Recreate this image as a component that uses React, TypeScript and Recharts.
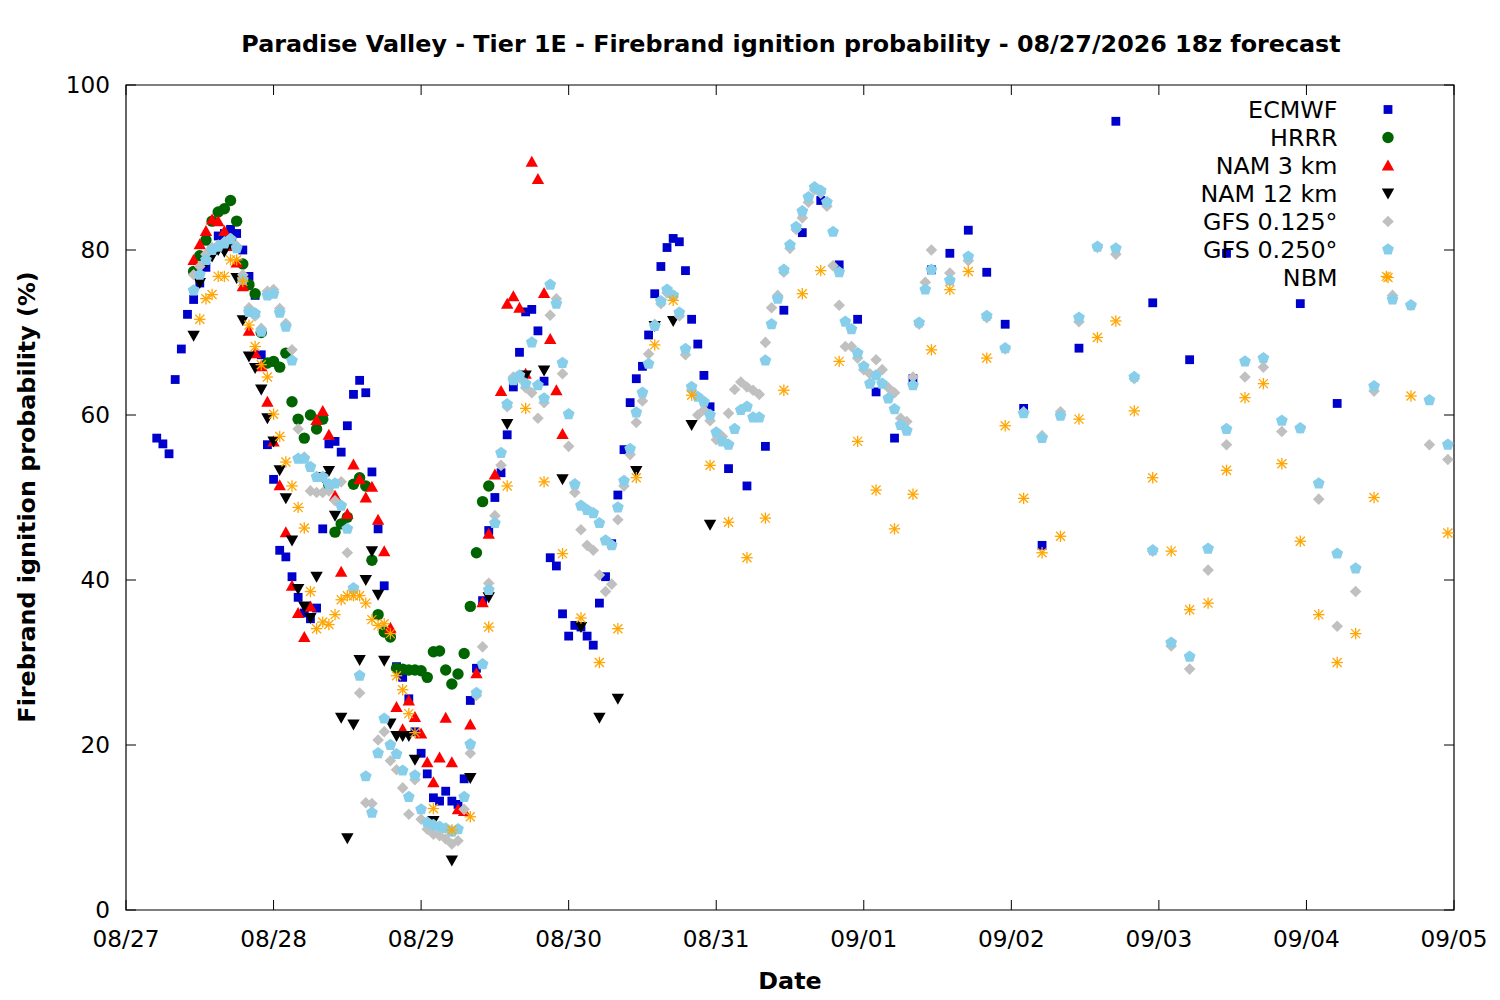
import { ScatterChart, Scatter, XAxis, YAxis, ReferenceArea } from "recharts";

// hours are counted from 08/27 00 local time
const DAY_LABELS = ["08/27", "08/28", "08/29", "08/30", "08/31", "09/01", "09/02", "09/03", "09/04", "09/05"];
const X_TICKS = [0, 24, 48, 72, 96, 120, 144, 168, 192, 216];
const Y_TICKS = [0, 20, 40, 60, 80, 100];

const span = (from: number, to: number, step: number) => {
  const out: number[] = [];
  for (let h = from; h <= to; h += step) out.push(h);
  return out;
};

const ECMWF_HOURS = [...span(5, 95, 1), ...span(98, 146, 3), 149, 155, 161, 167, 173, 179, 191, 197];
const ECMWF_VALUES = [
  57.2, 56.5, 55.3, 64.3, 68, 72.2, 74, 76, 77.9, 80, 81.7, 82, 82.5, 82, 80, 76.8, 74.5, 67.3, 56.4,
  52.2, 43.6, 42.8, 40.4, 37.9, 36, 35.3, 36.6, 46.2, 56.5, 56.8, 55.5, 58.7, 62.5, 64.2, 62.7, 53.1,
  46.2, 39.3, 33.5, 29.5, 28.2, 25.6, 21.6, 19, 16.5, 13.6, 13.2, 14.4, 13.2, 12.8, 15.9, 25.4, 29.3,
  37.5, 46, 50, 53, 57.6, 63.4, 67.6, 72.5, 72.8, 70.2, 64.1, 42.7, 41.7, 35.9, 33.2, 34.5, 34.3, 33.2,
  32.1, 37.2, 40.4, 44.4, 50.3, 55.8, 61.5, 64.4, 65.9, 69.7, 74.7, 78, 80.3, 81.4, 81, 77.5, 71.6,
  68.6, 64.8, 61,
  53.5, 51.4, 56.2, 72.7, 82.1, 86, 78.2, 71.6, 62.8, 57.2, 64.4, 77.6, 79.6, 82.4, 77.3, 71, 60.8,
  44.2, 68.1, 95.6, 73.6, 66.7, 79.6, 73.5, 61.4,
];

const HRRR_HOURS = span(11, 59, 1);
const HRRR_VALUES = [
  77.4, 79.3, 81.2, 83.5, 84.6, 85, 86, 83.5, 78.3, 75.8, 74.7, 70, 66.3, 66.5, 65.8, 67.5, 61.6, 59.5,
  57.2, 60, 58.3, 59.5, 51.5, 45.8, 46.8, 47.6, 51.6, 52.4, 51.4, 42.4, 35.8, 33.7, 33.1, 29.3, 29.2,
  29.1, 29.1, 29, 28.2, 31.3, 31.4, 29.1, 27.4, 28.6, 31.1, 36.8, 43.3, 49.5, 51.4,
];

const NAM3_HOURS = span(11, 71, 1);
const NAM3_VALUES = [
  78.8, 80.7, 82.3, 83.7, 83.5, 82.3, 80.5, 78.5, 75.6, 70.2, 67.5, 65.9, 61.6, 56.8, 51.5, 45.8, 39.3,
  36, 33.1, 36.8, 59.4, 60.5, 57.6, 50.2, 41, 48, 54, 52.2, 50, 51.3, 47.3, 43.5, 34.2, 24.6, 21.9, 25.4,
  23.4, 21.4, 17.9, 15.5, 18.5, 23.3, 17.9, 12.2, 12, 22.5, 28.7, 37.3, 45.6, 52.8, 62.9, 73.5, 74.4, 73,
  65, 90.7, 88.6, 74.8, 69.2, 63, 57.7,
];

const NAM12_HOURS = [...span(11, 47, 1), ...span(50, 95, 3)];
const NAM12_VALUES = [
  69.6, 76, 78.5, 79.2, 80, 79.8, 80.8, 76.6, 71.5, 67.1, 65.7, 63.1, 59.6, 56.8, 53.3, 49.9, 44.8, 38.9,
  36.8, 35.4, 40.4, 52.5, 53.2, 47.8, 23.3, 8.7, 22.5, 30.3, 40, 43.5, 38.2, 30.2, 22.6, 21.1, 21.1, 21.1,
  18.2,
  10.8, 6, 16, 37.9, 58.9, 64.8, 65.4, 52.2, 34.3, 23.3, 25.6, 53.2, 70.8, 71.4, 58.8, 46.7,
];

const GFS_HOURS = [...span(11, 131, 1), ...span(134, 215, 3)];
const GFS125_VALUES = [
  77, 78, 79.5, 80.3, 80.6, 81, 81.4, 80.5, 77, 73, 72, 70.5, 75, 75.2, 72.9, 71.1, 67.9, 58.3, 54.9,
  50.8, 50.6, 50.6, 50.8, 49.6, 51.9, 43.3, 38.8, 26.3, 13, 12.9, 20.6, 21.6, 18.1, 17, 14.8, 11.6, 15.8,
  11, 9.8, 9.2, 9, 8.6, 8, 8.4, 12.2, 19, 26, 31.9, 39.6, 47.8, 53.9, 61, 64.6, 64.5, 63.3, 62.7, 59.6,
  61.5, 72.1, 74.1, 65, 56.2, 50.6, 46.1, 44.2, 43.6, 40.6, 38.6, 39.5, 47.3, 51.4, 55.2, 59.1, 61.7,
  67.4, 71, 73.5, 74.8, 74.3, 72, 67.3, 63, 60, 60.6, 59.3, 57, 57.4, 60.2, 63.1, 64, 63.4, 63, 62.5,
  68.8, 73, 74.5, 77.3, 80.2, 82.5, 83.9, 85.8, 87.3, 86.9, 85.3, 78.1, 73.3, 68.3, 68.3, 66.9, 65.5, 65,
  66.7, 65.5, 63.3, 62.7, 59.6, 59.2, 64.6, 71, 76.1, 80,
  77.2, 78.7, 71.8, 68, 60.4, 57.5, 60.4, 71.3, 80.3, 79.5, 64.4, 43.5, 32, 29.2, 41.2, 56.4, 64.6, 65.8,
  58, 58.4, 49.8, 34.4, 38.6, 62.9, 74.5, 73.3, 56.4, 54.6,
];
const GFS250_VALUES = [
  75.1, 77, 78.8, 80, 80.4, 80.8, 81.3, 80.2, 76.4, 72.5, 72.3, 70.1, 74.5, 74.7, 72.4, 70.7, 66.6, 54.7,
  54.7, 53.7, 52.5, 52.5, 51.6, 51.7, 49, 46.2, 39, 28.4, 16.2, 11.8, 19, 23.2, 20, 18.9, 16.9, 13.7,
  16.3, 12.2, 10.6, 10.3, 10.1, 9.9, 9.5, 9.8, 13.7, 20.1, 26.3, 29.8, 38.8, 46.9, 55.4, 61.3, 64.2,
  64.8, 63.8, 68.8, 63.6, 62, 75.8, 73.5, 66.3, 60.1, 51.6, 49, 48.5, 48.1, 46.9, 44.8, 44.2, 48.8, 52,
  55.9, 60.3, 62.7, 66.2, 70.8, 73.8, 75.2, 74.5, 72.4, 68, 63.4, 62.2, 61.6, 60, 57.9, 56.8, 56.4, 58.3,
  60.6, 61, 59.7, 59.7, 66.6, 71, 74.1, 77.6, 80.6, 82.8, 84.7, 86.4, 87.6, 87.2, 85.8, 82.2, 77.3, 71.3,
  70.4, 67.5, 65.9, 63.8, 64.8, 63.8, 62, 60.7, 58.8, 58.1, 63.6, 71.2, 75.2, 77.6,
  76.3, 79.2, 72, 68.1, 60.2, 57.2, 59.9, 71.8, 80.4, 80.2, 64.6, 43.6, 32.4, 30.7, 43.8, 58.3, 66.5,
  66.9, 59.3, 58.4, 51.7, 43.2, 41.4, 63.5, 74, 73.3, 61.8, 56.4,
];

const NBM_HOURS = [...span(12, 47, 1), ...span(50, 203, 3), 205, 209, 215];
const NBM_VALUES = [
  71.6, 74.1, 74.6, 76.8, 76.8, 78.8, 78.8, 76.2, 70.9, 68.3, 66.1, 64.6, 60.1, 57.4, 54.3, 51.4, 48.8,
  46.3, 38.6, 34.1, 34.9, 34.6, 35.8, 37.6, 38.1, 38.1, 38.1, 37.2, 35.2, 34.5, 34.7, 33.5, 28.4, 26.7,
  23.8, 21.5,
  12.3, 9.7, 11.3, 34.3, 51.4, 60.8, 51.9, 43.2, 35.4, 30, 34.1, 52.4, 68.5, 73.9, 62.4, 53.9, 47, 42.7,
  47.5, 63, 74.7, 77.5, 66.5, 56.8, 50.9, 46.2, 50.4, 67.9, 75.2, 77.4, 66.9, 58.7, 49.9, 43.3, 45.3,
  59.5, 69.4, 71.4, 60.5, 52.4, 43.5, 36.4, 37.2, 53.3, 62.1, 63.8, 54.1, 44.7, 35.8, 30, 33.5, 50,
  76.8, 62.3, 45.7,
];

const toPoints = (hours: number[], values: number[]) => hours.map((h, i) => ({ x: h, y: values[i] }));

const FONT = "DejaVu Sans";
const W = 1500;
const H = 1000;
const LEFT = 126;
const RIGHT = 1454;
const TOP = 85;
const BOTTOM = 910;
const TICK = 10;

type Dot = { cx?: number; cy?: number };

const Square = ({ cx = 0, cy = 0 }: Dot) => (
  <rect x={cx - 4.4} y={cy - 4.4} width={8.8} height={8.8} fill="#0000cc" />
);
const Circle = ({ cx = 0, cy = 0 }: Dot) => <circle cx={cx} cy={cy} r={5.7} fill="#006400" />;
const TriUp = ({ cx = 0, cy = 0 }: Dot) => (
  <polygon points={`${cx},${cy - 6} ${cx + 6.2},${cy + 5} ${cx - 6.2},${cy + 5}`} fill="#ff0000" />
);
const TriDown = ({ cx = 0, cy = 0 }: Dot) => (
  <polygon points={`${cx},${cy + 6} ${cx + 6.2},${cy - 5} ${cx - 6.2},${cy - 5}`} fill="#000000" />
);
const Diamond = ({ cx = 0, cy = 0 }: Dot) => (
  <polygon points={`${cx},${cy - 5.8} ${cx + 5.8},${cy} ${cx},${cy + 5.8} ${cx - 5.8},${cy}`} fill="#c0c0c0" />
);
const Pentagon = ({ cx = 0, cy = 0 }: Dot) => {
  const pts = [0, 1, 2, 3, 4]
    .map((k) => {
      const a = -Math.PI / 2 + (k * 2 * Math.PI) / 5;
      return `${cx + 6.2 * Math.cos(a)},${cy + 6.2 * Math.sin(a)}`;
    })
    .join(" ");
  return <polygon points={pts} fill="#87ceeb" />;
};
const Star = ({ cx = 0, cy = 0 }: Dot) => (
  <g stroke="#ffa500" strokeWidth={1.3}>
    <line x1={cx - 5.7} y1={cy} x2={cx + 5.7} y2={cy} />
    <line x1={cx} y1={cy - 5.7} x2={cx} y2={cy + 5.7} />
    <line x1={cx - 4.5} y1={cy - 4.5} x2={cx + 4.5} y2={cy + 4.5} />
    <line x1={cx - 4.5} y1={cy + 4.5} x2={cx + 4.5} y2={cy - 4.5} />
  </g>
);

const SERIES = [
  { name: "ECMWF", data: toPoints(ECMWF_HOURS, ECMWF_VALUES), Shape: Square },
  { name: "HRRR", data: toPoints(HRRR_HOURS, HRRR_VALUES), Shape: Circle },
  { name: "NAM 3 km", data: toPoints(NAM3_HOURS, NAM3_VALUES), Shape: TriUp },
  { name: "NAM 12 km", data: toPoints(NAM12_HOURS, NAM12_VALUES), Shape: TriDown },
  { name: "GFS 0.125°", data: toPoints(GFS_HOURS, GFS125_VALUES), Shape: Diamond },
  { name: "GFS 0.250°", data: toPoints(GFS_HOURS, GFS250_VALUES), Shape: Pentagon },
  { name: "NBM", data: toPoints(NBM_HOURS, NBM_VALUES), Shape: Star },
];

const XTick = ({ x, y, payload }: any) => (
  <g>
    <line x1={x} x2={x} y1={y} y2={y - TICK} stroke="#000" />
    <line x1={x} x2={x} y1={y - (BOTTOM - TOP)} y2={y - (BOTTOM - TOP) + TICK} stroke="#000" />
    <text x={x} y={y + 36.5} textAnchor="middle" fontFamily={FONT} fontSize={23.2} fill="#000">
      {DAY_LABELS[Math.round(payload.value / 24)]}
    </text>
  </g>
);

const YTick = ({ x, y, payload }: any) => (
  <g>
    <line x1={x} x2={x + TICK} y1={y} y2={y} stroke="#000" />
    <line x1={x + (RIGHT - LEFT)} x2={x + (RIGHT - LEFT) - TICK} y1={y} y2={y} stroke="#000" />
    <text x={x - 16} y={y + 8.3} textAnchor="end" fontFamily={FONT} fontSize={23.2} fill="#000">
      {payload.value}
    </text>
  </g>
);

export default function App() {
  return (
    <div style={{ position: "absolute", left: 0, top: 0, width: W, height: H, background: "#fff" }}>
      <ScatterChart width={W} height={H} margin={{ top: TOP, right: W - RIGHT, bottom: 0, left: 0 }}>
        <XAxis
          type="number"
          dataKey="x"
          domain={[0, 216]}
          ticks={X_TICKS}
          interval={0}
          height={H - BOTTOM}
          tickSize={0}
          tickMargin={0}
          tickLine={false}
          axisLine={false}
          tick={XTick}
          allowDataOverflow
        />
        <YAxis
          type="number"
          dataKey="y"
          domain={[0, 100]}
          ticks={Y_TICKS}
          interval={0}
          width={LEFT}
          tickSize={0}
          tickMargin={0}
          tickLine={false}
          axisLine={false}
          tick={YTick}
          allowDataOverflow
        />
        <ReferenceArea x1={0} x2={216} y1={0} y2={100} fill="none" stroke="#000" strokeWidth={1.2} />
        {SERIES.map((s) => (
          <Scatter
            key={s.name}
            name={s.name}
            data={s.data}
            shape={(p: any) => <s.Shape cx={p.cx} cy={p.cy} />}
            isAnimationActive={false}
          />
        ))}
      </ScatterChart>
      <svg
        width={W}
        height={H}
        style={{ position: "absolute", left: 0, top: 0, pointerEvents: "none" }}
        fontFamily={FONT}
      >
        <text x={791} y={51.5} textAnchor="middle" fontSize={23.8} fontWeight="bold">
          Paradise Valley - Tier 1E - Firebrand ignition probability - 08/27/2026 18z forecast
        </text>
        <text x={790} y={988.5} textAnchor="middle" fontSize={23.8} fontWeight="bold">
          Date
        </text>
        <text
          x={0}
          y={0}
          transform="translate(35,497) rotate(-90)"
          textAnchor="middle"
          fontSize={23.8}
          fontWeight="bold"
        >
          Firebrand ignition probability (%)
        </text>
        {SERIES.map((s, i) => (
          <g key={s.name}>
            <text x={1337.5} y={118.3 + i * 28} textAnchor="end" fontSize={23.8}>
              {s.name}
            </text>
            <s.Shape cx={1388} cy={109.5 + i * 28} />
          </g>
        ))}
      </svg>
    </div>
  );
}
